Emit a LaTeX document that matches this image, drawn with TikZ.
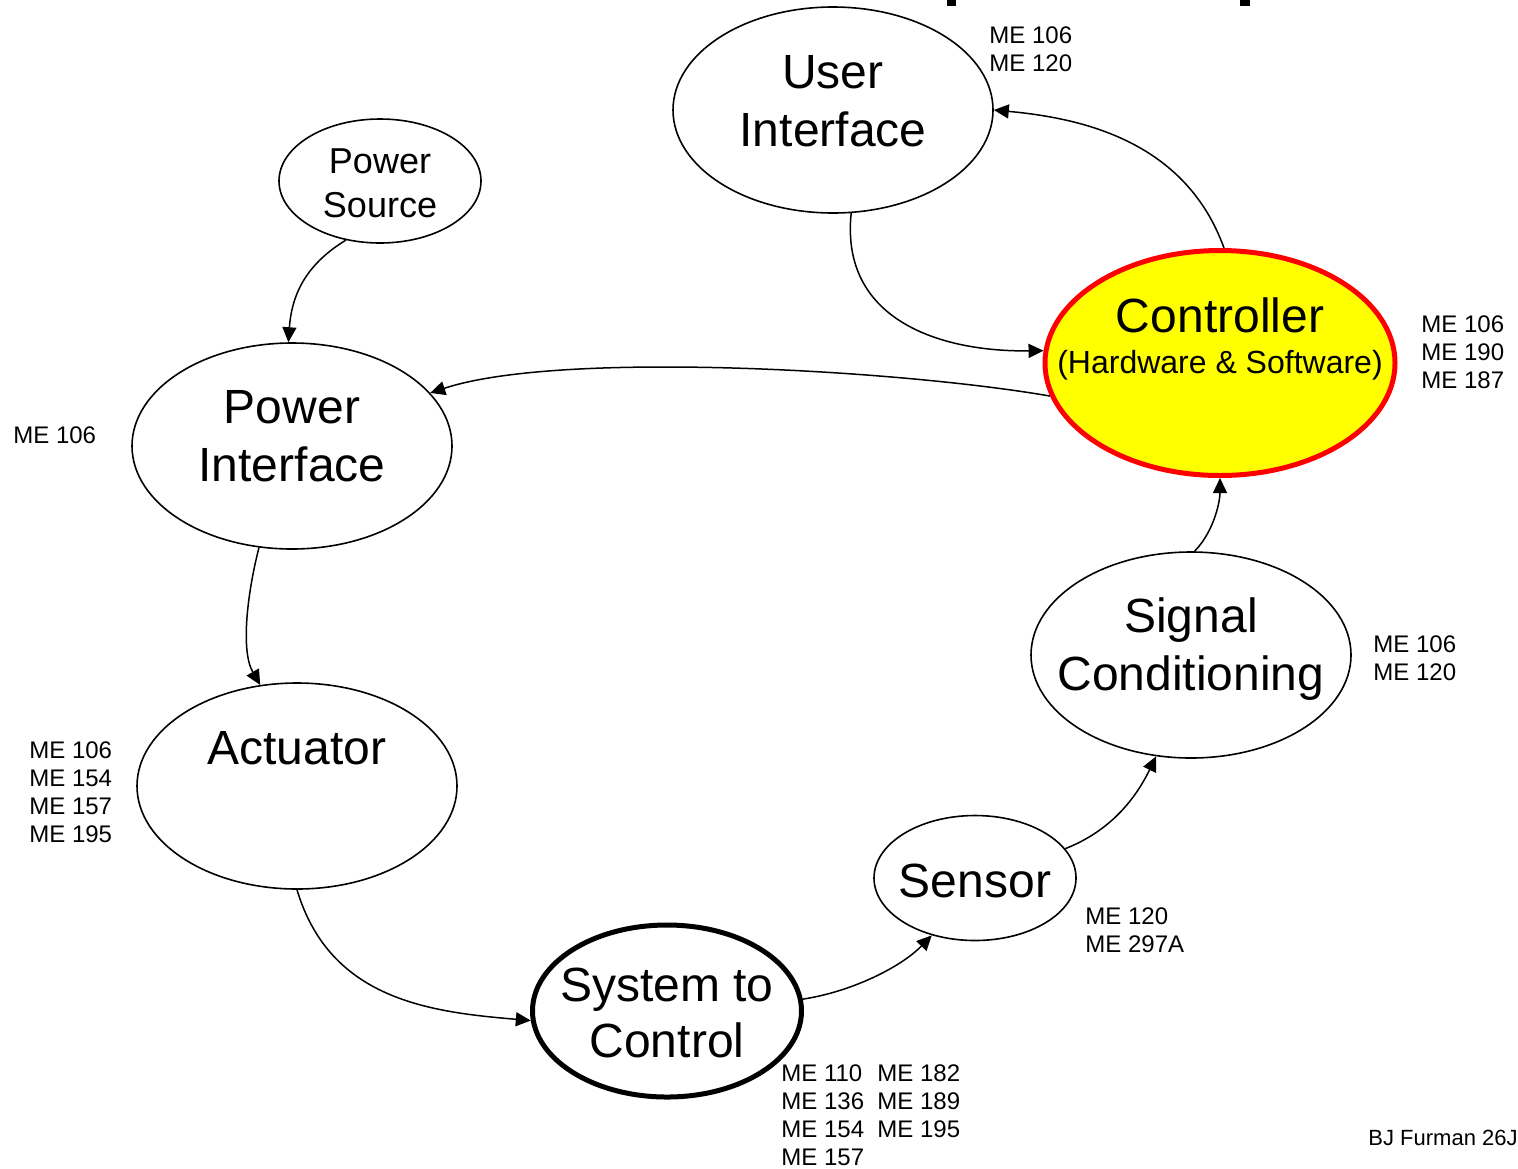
\documentclass[tikz,border=0pt]{standalone}
\usepackage{fontspec}
\setmainfont{Liberation Sans}
\usetikzlibrary{shapes.geometric,arrows.meta}
\definecolor{ctrlfill}{RGB}{255,255,0}
\definecolor{ctrledge}{RGB}{255,0,0}

\begin{document}
\begin{tikzpicture}[x=0.5pt, y=-0.5pt,
    bubble/.style={draw, ellipse, line width=0.8pt, inner sep=0pt},
    big/.style={anchor=base, inner sep=0pt, font=\fontsize{24}{29}\selectfont},
    course/.style={anchor=north west, align=left, inner sep=0pt, font=\fontsize{12}{14}\selectfont},
    flow/.style={-{Triangle[length=7.5pt,width=7pt]}, line width=0.75pt}]
    \useasboundingbox (0,0) rectangle (1518,1168);
    % bits of the title, cut off at the top
    \fill (947,0) rectangle (956,6);
    \fill (1240,0) rectangle (1250,6);
    % User interface
    \node[bubble, minimum width=160pt, minimum height=103pt] (ui) at (833,110) {};
    \node[big] (ui-a) at (833,88) {User};
    \node[big] (ui-b) at (833,146) {Interface};
    \node[course] (ui-me) at (989,26) {ME 106\\ME 120};
    % Power source
    \node[bubble, minimum width=101pt, minimum height=62pt] (ps) at (380,181) {};
    \node[big, font=\fontsize{18}{22}\selectfont] (ps-a) at (380,173) {Power};
    \node[big, font=\fontsize{18}{22}\selectfont] (ps-b) at (380,217) {Source};
    % Power interface
    \node[bubble, minimum width=160pt, minimum height=103pt] (pi) at (292,446) {};
    \node[big] (pi-a) at (292,423) {Power};
    \node[big] (pi-b) at (292,481) {Interface};
    \node[course] (pi-me) at (13,426) {ME 106};
    % Controller
    \node[bubble, fill=ctrlfill, draw=ctrledge, line width=2.5pt, minimum width=175pt, minimum height=112.5pt] (ctrl) at (1220,363) {};
    \node[big] (ctrl-a) at (1220,332) {Controller};
    \node[big, font=\fontsize{16}{20}\selectfont] (ctrl-b) at (1220,373) {(Hardware \& Software)};
    \node[course] (ctrl-me) at (1421,315) {ME 106\\ME 190\\ME 187};
    % Signal conditioning
    \node[bubble, minimum width=160pt, minimum height=103pt] (sc) at (1191,655) {};
    \node[big] (sc-a) at (1191,632) {Signal};
    \node[big] (sc-b) at (1191,690) {Conditioning};
    \node[course] (sc-me) at (1373,635) {ME 106\\ME 120};
    % Actuator
    \node[bubble, minimum width=160pt, minimum height=103pt] (act) at (297,786) {};
    \node[big] (act-a) at (297,764) {Actuator};
    \node[course] (act-me) at (29,741) {ME 106\\ME 154\\ME 157\\ME 195};
    % Sensor
    \node[bubble, minimum width=101pt, minimum height=62.5pt] (sen) at (975,878) {};
    \node[big] (sen-a) at (975,897) {Sensor};
    \node[course] (sen-me) at (1085,907) {ME 120\\ME 297A};
    % System to control
    \node[bubble, line width=2.5pt, minimum width=134.5pt, minimum height=86pt] (stc) at (667,1011) {};
    \node[big] (stc-a) at (667,1001) {System to};
    \node[big] (stc-b) at (667,1057) {Control};
    \node[course] (stc-me) at (781,1064) {ME 110\\ME 136\\ME 154\\ME 157};
    \node[course] (stc-me2) at (877,1064) {ME 182\\ME 189\\ME 195};
    % Signature
    \node[anchor=east, inner sep=0pt, font=\fontsize{11}{13}\selectfont] (sig) at (1518,1138) {BJ Furman 26J};
    % Signal flow
    \draw[flow] (ps.240) .. controls (310,262) and (292,290) .. (pi.92);
    \draw[flow] (pi.252) .. controls (248,590) and (240,650) .. (act.110);
    \draw[flow] (act.south) .. controls (330,1000) and (430,1012) .. (stc.184);
    \draw[flow] (stc.5) .. controls (850,992) and (900,968) .. (sen.233);
    \draw[flow] (sen.18) .. controls (1100,835) and (1130,810) .. (sc.251);
    \draw[flow] (sc.88) .. controls (1215,530) and (1220,500) .. (ctrl.south);
    \draw[flow] (ctrl.88) .. controls (1185,140) and (1080,118) .. (ui.east);
    \draw[flow] (ui.280) .. controls (840,320) and (940,352) .. (ctrl.176);
    \draw[flow] (ctrl.191) .. controls (900,370) and (560,350) .. (pi.21);
\end{tikzpicture}
\end{document}
